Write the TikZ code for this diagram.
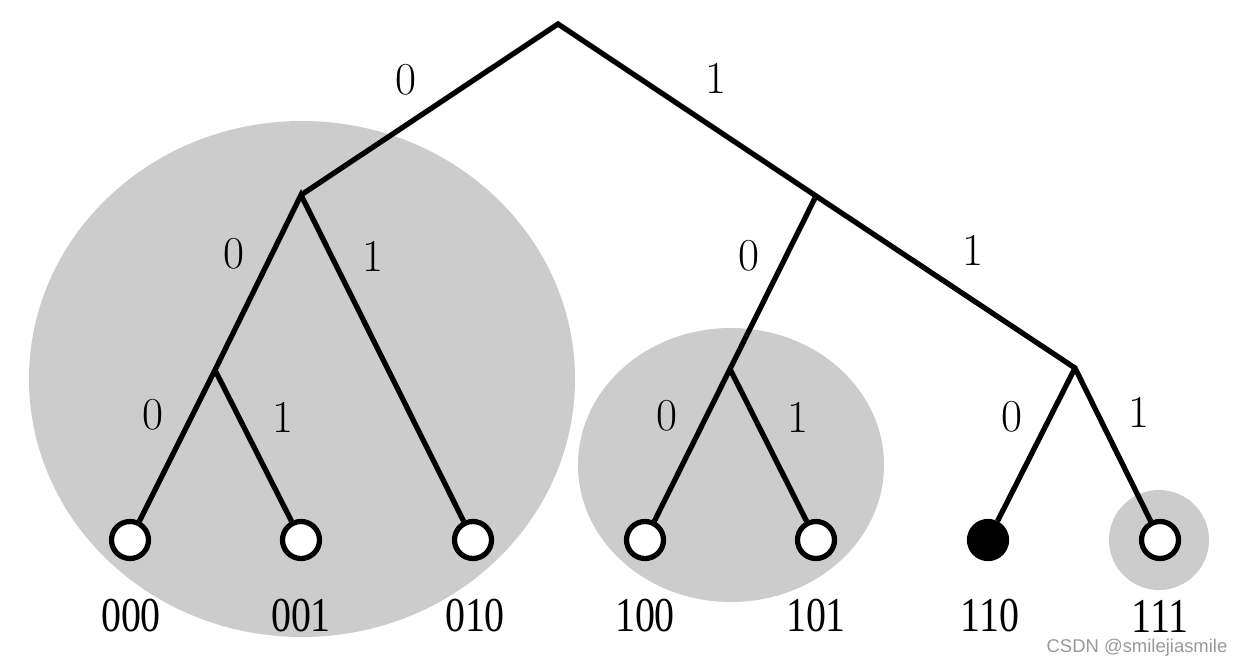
\documentclass[tikz,border=0pt]{standalone}
\usepackage{fontspec}
\newfontfamily\leaffont{Liberation Serif}
\newfontfamily\markfont{Liberation Sans}
\begin{document}
\begin{tikzpicture}[x=0.02cm,y=-0.02cm,line width=3pt,
  leaf/.style={circle,draw,fill=white,minimum size=0.74cm,inner sep=0pt},
  hit/.style={leaf,fill=black},
  bit/.style={font=\fontsize{26}{30}\selectfont},
  code/.style={font=\leaffont\fontsize{27.7}{32}\selectfont}]
\useasboundingbox (0,0) rectangle (1244,666);
\fill[gray!40] (302,379) ellipse (273 and 258); \fill[gray!40] (731,465) ellipse (153 and 137); \fill[gray!40] (1159,540) circle (50);
\coordinate (r) at (558,24); \coordinate (n0) at (301,195); \coordinate (n1) at (816,196);
\coordinate (n00) at (215,370); \coordinate (n10) at (730,369); \coordinate (n11) at (1075,368);
\foreach \c/\x in {000/130,001/301,010/473,100/645,101/816,111/1160} \node[leaf] (l\c) at (\x,540) {};
\node[hit] (l110) at (988,540) {};
\draw (n0)--(r)--(n1)--(n11)--(l111); \draw (l000)--(n00)--(n0)--(l010); \draw (n00)--(l001);
\draw (l100)--(n10)--(n1); \draw (n10)--(l101); \draw (n11)--(l110);
\foreach \c/\x in {000/131,001/301,010/475,100/645,101/816,110/990,111/1160} \node[code] (t\c) at (\x,616) {\scalebox{0.82}[1]{\c}};
\foreach \b/\x/\y [count=\i] in {0/406/80,1/716/78,0/234/254,1/373/256,0/749/256,1/973/250,0/153/415,1/283/417,0/667/416,1/798/417,0/1012/417,1/1139/412}
  \node[bit] (b\i) at (\x,\y) {\b};
\node[black!40,font=\markfont\fontsize{10.5}{12}\selectfont] (mark) at (1137,648) {CSDN @smilejiasmile};
\end{tikzpicture}
\end{document}
